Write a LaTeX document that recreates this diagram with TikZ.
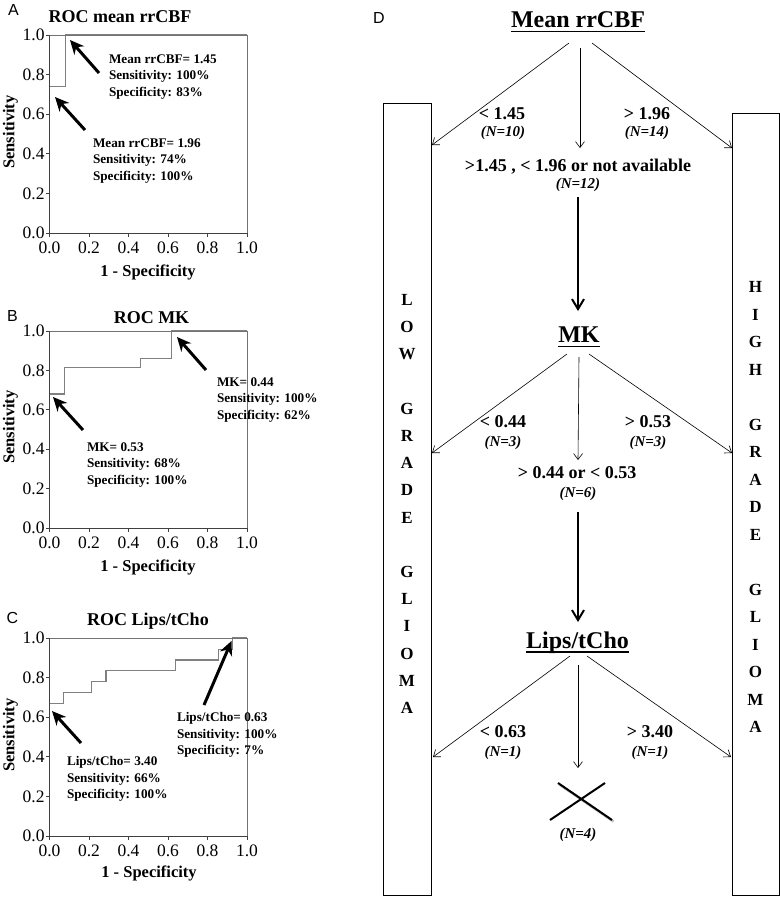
\documentclass[tikz,border=0pt]{standalone}
\usepackage{fontspec}
\setmainfont{Liberation Serif}
\newfontfamily\lettersf{Liberation Sans}
\usetikzlibrary{arrows.meta}
\newcommand\myfs[1]{\fontsize{#1}{#1}\selectfont}
\newcommand\rocaxes[1]{%
  \draw[frameline] (0,1) -- (1,1) -- (1,0);
  \draw[axisline] (0,1) -- (0,0) -- (1,0);
  \foreach \v [count=\i] in {0.0,0.2,0.4,0.6,0.8,1.0}{%
    \draw[axisline] (0,\v) -- ++(-4pt,0pt);
    \draw[axisline] (\v,0) -- ++(0pt,-4pt);
    \node[ticklbl,anchor=east] (#1y\i) at ([xshift=-5pt]0,\v) {\v};
    \node[ticklbl] (#1x\i) at ([yshift=-15pt]\v,0) {\v};
  }%
}
\begin{document}
\begin{tikzpicture}[x=1pt,y=-1pt,
  every node/.style={inner sep=0pt, outer sep=0pt},
  plotttl/.style={font=\bfseries\myfs{18}},
  panlbl/.style={font=\lettersf\myfs{16}},
  ticklbl/.style={font=\myfs{17.5}},
  axttl/.style={font=\bfseries\myfs{16.5}},
  annot/.style={font=\bfseries\fontsize{13.2}{16.3}\selectfont, align=left, anchor=west},
  axisline/.style={draw=black!75, line width=1pt},
  frameline/.style={draw=black!55, line width=1pt},
  rocline/.style={draw=black!50, line width=1.1pt},
  bigarrow/.style={line width=3pt, -{Stealth[length=14pt,width=13pt]}},
  hdr/.style={font=\bfseries\myfs{24}, anchor=base},
  uline/.style={line width=1.6pt},
  cond/.style={font=\bfseries\myfs{18}},
  ncount/.style={font=\bfseries\itshape\myfs{15}},
  thinarr/.style={line width=0.6pt, -{Straight Barb[length=6pt,width=9pt]}},
  thickarr/.style={line width=2pt, -{Straight Barb[length=10pt,width=12pt]}},
  vlet/.style={font=\bfseries\myfs{17}},
  gbox/.style={draw, line width=0.9pt}
]
\useasboundingbox (0,0) rectangle (780,898);

% ================= Panel A =================
\node[panlbl] (pA) at (13.5,10) {A};
\node[plotttl] (tA) at (120,16.5) {ROC mean rrCBF};
\begin{scope}[shift={(49.5,233)}, x=197.5pt, y=198pt]
  \draw[rocline] (0,0) -- (0,0.74) -- (0.082,0.74) -- (0.082,1) -- (1,1);
  \rocaxes{A}
\end{scope}
\node[axttl, rotate=90] (sA) at (10.5,132) {Sensitivity};
\node[axttl] (xA) at (148,272) {1 - Specificity};
\node[annot] (nA1) at (109,77) {Mean rrCBF= 1.45\\Sensitivity: 100\%\\Specificity: 83\%};
\node[annot] (nA2) at (93,161) {Mean rrCBF= 1.96\\Sensitivity: 74\%\\Specificity: 100\%};
\coordinate (aA1s) at (99,73);  \coordinate (aA1e) at (70,40);
\coordinate (aA2s) at (85,130); \coordinate (aA2e) at (55,97);
\draw[bigarrow] (aA1s) -- (aA1e);
\draw[bigarrow] (aA2s) -- (aA2e);

% ================= Panel B =================
\node[panlbl] (pB) at (12.5,316) {B};
\node[plotttl] (tB) at (151.5,317.5) {ROC MK};
\begin{scope}[shift={(49.5,528)}, x=197.5pt, y=197pt]
  \draw[rocline] (0,0) -- (0,0.68) -- (0.075,0.68) -- (0.075,0.816) -- (0.463,0.816)
     -- (0.463,0.861) -- (0.619,0.861) -- (0.619,1) -- (1,1);
  \rocaxes{B}
\end{scope}
\node[axttl, rotate=90] (sB) at (10.5,427) {Sensitivity};
\node[axttl] (xB) at (148,567) {1 - Specificity};
\node[annot] (nB1) at (217,400) {MK= 0.44\\Sensitivity: 100\%\\Specificity: 62\%};
\node[annot] (nB2) at (87,465) {MK= 0.53\\Sensitivity: 68\%\\Specificity: 100\%};
\coordinate (aB1s) at (206,370); \coordinate (aB1e) at (177,337);
\coordinate (aB2s) at (83,430);  \coordinate (aB2e) at (53,397);
\draw[bigarrow] (aB1s) -- (aB1e);
\draw[bigarrow] (aB2s) -- (aB2e);

% ================= Panel C =================
\node[panlbl] (pC) at (12.5,618) {C};
\node[plotttl] (tC) at (148,621.5) {ROC Lips/tCho};
\begin{scope}[shift={(49.5,836)}, x=197.5pt, y=198pt]
  \draw[rocline] (0,0) -- (0,0.67) -- (0.07,0.67) -- (0.07,0.724) -- (0.214,0.724)
     -- (0.214,0.78) -- (0.286,0.78) -- (0.286,0.838) -- (0.64,0.838) -- (0.64,0.889)
     -- (0.855,0.889) -- (0.855,0.943) -- (0.928,0.943) -- (0.928,1) -- (1,1);
  \rocaxes{C}
\end{scope}
\node[axttl, rotate=90] (sC) at (10.5,735) {Sensitivity};
\node[axttl] (xC) at (149,873) {1 - Specificity};
\node[annot] (nC1) at (67,779) {Lips/tCho= 3.40\\Sensitivity: 66\%\\Specificity: 100\%};
\node[annot] (nC2) at (177,735) {Lips/tCho= 0.63\\Sensitivity: 100\%\\Specificity: 7\%};
\coordinate (aC1s) at (81,743);  \coordinate (aC1e) at (52,711);
\coordinate (aC2s) at (204,705); \coordinate (aC2e) at (231.5,641);
\draw[bigarrow] (aC1s) -- (aC1e);
\draw[bigarrow] (aC2s) -- (aC2e);

% ================= Panel D =================
\node[panlbl] (pD) at (379,17.5) {D};

% side boxes
\node[gbox, minimum width=48pt, minimum height=792pt] (lowbox) at (407,499) {};
\node[gbox, minimum width=47pt, minimum height=782pt] (highbox) at (755.5,504) {};
\foreach \c/\k in {L/0,O/1,W/2,G/4,R/5,A/6,D/7,E/8,G/10,L/11,I/12,O/13,M/14,A/15}
  \node[vlet] (low\k) at (407,300+27.2*\k) {\c};
\foreach \c/\k in {H/0,I/1,G/2,H/3,G/5,R/6,A/7,D/8,E/9,G/11,L/12,I/13,O/14,M/15,A/16}
  \node[vlet] (high\k) at (755.5,287+27.5*\k) {\c};

% level 1
\node[hdr] (mean) at (578,27) {Mean rrCBF};
\draw[uline] ([yshift=-4.5pt]mean.base west) -- ([yshift=-4.5pt]mean.base east);
\coordinate (m1s) at (569,43);  \coordinate (m1e) at (432,145);
\coordinate (m2s) at (580,48);  \coordinate (m2e) at (580,148);
\coordinate (m3s) at (592,43);  \coordinate (m3e) at (732,148);
\draw[thinarr] (m1s) -- (m1e);
\draw[thinarr] (m2s) -- (m2e);
\draw[thinarr] (m3s) -- (m3e);
\node[cond] (c11) at (502,114) {< 1.45};
\node[ncount] (n11) at (503,133) {(N=10)};
\node[cond] (c13) at (647,114) {> 1.96};
\node[ncount] (n13) at (647,133) {(N=14)};
\node[cond] (c12) at (578,166.5) {>1.45 , < 1.96 or not available};
\node[ncount] (n12) at (578,185) {(N=12)};
\coordinate (t1s) at (578,197); \coordinate (t1e) at (578,311);
\draw[thickarr] (t1s) -- (t1e);

% level 2
\node[hdr] (mk) at (579,342.5) {MK};
\draw[uline] ([yshift=-4pt]mk.base west) -- ([yshift=-4pt]mk.base east);
\coordinate (k1s) at (567,354);  \coordinate (k1e) at (432,453);
\coordinate (k2s) at (579,357);  \coordinate (k2e) at (578,460);
\coordinate (k3s) at (589,354);  \coordinate (k3e) at (732,453);
\draw[thinarr] (k1s) -- (k1e);
\draw[thinarr] (k2s) -- (k2e);
\draw[thinarr] (k3s) -- (k3e);
\node[cond] (c21) at (503,422) {< 0.44};
\node[ncount] (n21) at (503,443) {(N=3)};
\node[cond] (c23) at (648,422) {> 0.53};
\node[ncount] (n23) at (648,443) {(N=3)};
\node[cond] (c22) at (577,473) {> 0.44 or < 0.53};
\node[ncount] (n22) at (578,494) {(N=6)};
\coordinate (t2s) at (578,512); \coordinate (t2e) at (578,622);
\draw[thickarr] (t2s) -- (t2e);

% level 3
\node[hdr] (lips) at (577.5,648.5) {Lips/tCho};
\draw[uline] ([yshift=-3.5pt]lips.base west) -- ([yshift=-3.5pt]lips.base east);
\coordinate (l1s) at (570,656);  \coordinate (l1e) at (433,757);
\coordinate (l2s) at (578,665);  \coordinate (l2e) at (578,768);
\coordinate (l3s) at (587,656);  \coordinate (l3e) at (731,757);
\draw[thinarr] (l1s) -- (l1e);
\draw[thinarr] (l2s) -- (l2e);
\draw[thinarr] (l3s) -- (l3e);
\node[cond] (c31) at (503,732) {< 0.63};
\node[ncount] (n31) at (503,753) {(N=1)};
\node[cond] (c33) at (650,732) {> 3.40};
\node[ncount] (n33) at (650,753) {(N=1)};

% cross
\coordinate (x1a) at (558,783); \coordinate (x1b) at (612,820);
\coordinate (x2a) at (550,820); \coordinate (x2b) at (605,783);
\draw[line width=2.5pt, black!25] ([shift={(1.5pt,-1.5pt)}]x1a) -- ([shift={(1.5pt,-1.5pt)}]x1b);
\draw[line width=2pt] (x1a) -- (x1b);
\draw[line width=2pt] (x2a) -- (x2b);
\node[ncount] (n32) at (578,835) {(N=4)};
\end{tikzpicture}
\end{document}
